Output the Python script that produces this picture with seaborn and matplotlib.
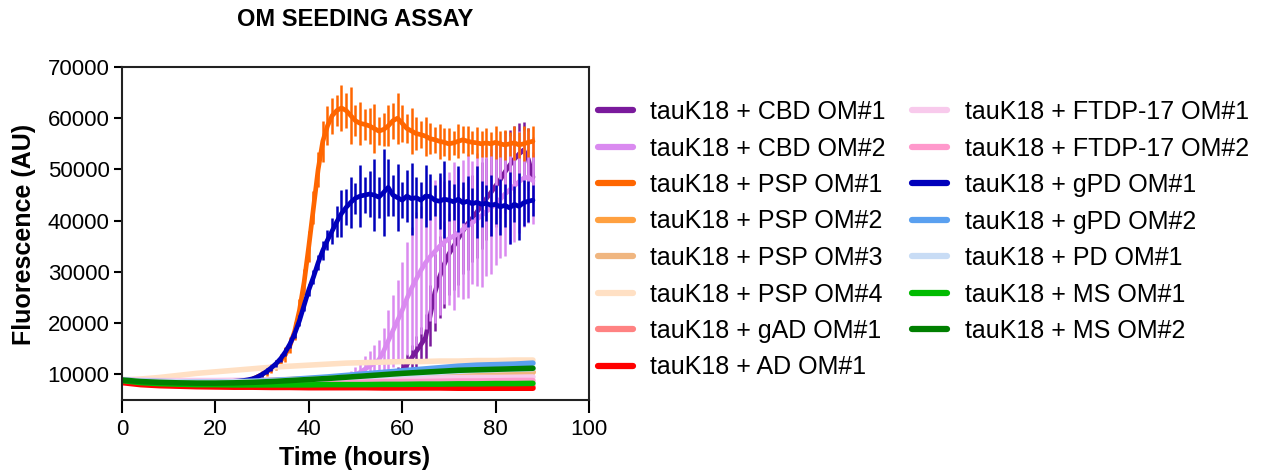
import numpy as np
import pandas as pd
import matplotlib
matplotlib.use("Agg")
import matplotlib.pyplot as plt
import seaborn as sns
from matplotlib.lines import Line2D

# ---------------- data ----------------
# dense time grid (hours) for the seeded (aggregating) samples
time_main = [0, 1, 2, 3, 4, 5, 6, 7, 8, 9, 10, 11, 12, 13, 14, 15, 16, 17, 18, 19,
             20, 21, 22, 23, 24, 25, 26, 27, 28, 29, 30, 31, 32, 33, 34, 35, 36, 37, 38, 39,
             40, 41, 42, 43, 44, 45, 46, 47, 48, 49, 50, 51, 52, 53, 54, 55, 56, 57, 58, 59,
             60, 61, 62, 63, 64, 65, 66, 67, 68, 69, 70, 71, 72, 73, 74, 75, 76, 77, 78, 79,
             80, 81, 82, 83, 84, 85, 86, 87, 88]

cbd1 = [8600, 8500, 8400, 8400, 8350, 8350, 8300, 8300, 8300, 8250,
        8250, 8250, 8200, 8200, 8200, 8200, 8200, 8200, 8200, 8200,
        8200, 8200, 8200, 8200, 8200, 8200, 8200, 8200, 8200, 8200,
        8200, 8200, 8200, 8200, 8200, 8200, 8250, 8250, 8250, 8250,
        8300, 8300, 8300, 8350, 8350, 8400, 8400, 8450, 8500, 8550,
        8600, 8700, 8800, 8900, 9000, 9150, 9300, 9500, 9800, 10200,
        10800, 11900, 13200, 14500, 15800, 17200, 21500, 26000, 29000, 31500,
        33500, 35000, 36500, 38000, 39400, 40500, 41700, 43000, 44300, 45500,
        46800, 48000, 49500, 50800, 52000, 53000, 53800, 52000, 48500]
cbd1_err = [300, 300, 300, 300, 300, 300, 300, 300, 300, 300,
            300, 300, 300, 300, 300, 300, 300, 300, 300, 300,
            300, 300, 300, 300, 300, 300, 300, 300, 300, 300,
            300, 300, 300, 300, 300, 300, 300, 300, 300, 300,
            300, 300, 300, 300, 300, 300, 300, 300, 300, 300,
            300, 300, 300, 300, 300, 300, 300, 500, 800, 1200,
            1600, 2000, 2500, 3000, 3500, 4500, 6000, 7500, 8000, 8500,
            8000, 8500, 9000, 8500, 9000, 8500, 9000, 8500, 8000, 8500,
            8000, 7500, 8000, 7000, 6500, 6000, 5500, 6000, 5000]

cbd2 = [8800, 8700, 8650, 8600, 8600, 8550, 8550, 8500, 8500, 8500,
        8450, 8450, 8450, 8400, 8400, 8400, 8400, 8400, 8400, 8400,
        8400, 8400, 8400, 8400, 8400, 8400, 8400, 8400, 8400, 8400,
        8400, 8400, 8450, 8450, 8450, 8450, 8500, 8500, 8500, 8550,
        8550, 8600, 8650, 8700, 8750, 8800, 8900, 9000, 9200, 9500,
        9900, 10400, 11000, 11600, 12200, 12800, 14500, 16500, 18500, 20500,
        22500, 24800, 26800, 28600, 30300, 31800, 33000, 34000, 35000, 35800,
        36500, 37000, 37600, 38300, 39000, 39600, 40300, 41000, 41800, 42500,
        43300, 44200, 45200, 46000, 46800, 47600, 48300, 48500, 47800]
cbd2_err = [300, 300, 300, 300, 300, 300, 300, 300, 300, 300,
            300, 300, 300, 300, 300, 300, 300, 300, 300, 300,
            300, 300, 300, 300, 300, 300, 300, 300, 300, 300,
            300, 300, 300, 300, 300, 300, 300, 300, 300, 300,
            300, 300, 300, 300, 300, 300, 500, 700, 900, 1200,
            1500, 2000, 2500, 3000, 3500, 4000, 4500, 6000, 7000, 8000,
            9500, 11000, 12000, 13000, 12500, 13000, 12500, 14000, 13500, 12000,
            13000, 14500, 12500, 13500, 14000, 12000, 13000, 14000, 12500, 13000,
            12000, 11500, 12000, 10500, 11000, 10000, 9500, 9000, 8500]

psp1 = [9000, 8800, 8700, 8650, 8600, 8600, 8550, 8550, 8500, 8500,
        8500, 8500, 8450, 8450, 8450, 8450, 8400, 8400, 8400, 8400,
        8400, 8450, 8450, 8500, 8550, 8600, 8700, 8850, 9100, 9500,
        10000, 10500, 11100, 11800, 12700, 13900, 15700, 18500, 22500, 28000,
        35000, 42500, 50000, 55500, 58500, 60500, 61500, 62000, 61500, 60500,
        59500, 59000, 58800, 58500, 58000, 57500, 57800, 58500, 59500, 60000,
        59000, 58000, 57500, 57000, 56800, 56500, 56000, 55800, 55500, 55300,
        55000, 55200, 55500, 55800, 55500, 55300, 55200, 55000, 55200, 55000,
        55300, 55000, 54800, 55000, 55200, 54800, 55000, 55300, 55500]
psp1_err = [500, 400, 350, 300, 300, 300, 300, 300, 300, 300,
            300, 300, 300, 300, 300, 300, 300, 300, 300, 300,
            300, 300, 300, 300, 300, 350, 400, 450, 500, 600,
            700, 800, 900, 1000, 1200, 1400, 1600, 1800, 2200, 2600,
            3000, 3200, 3500, 4000, 3800, 3500, 3000, 4500, 3500, 5500,
            3000, 4200, 3000, 3500, 4800, 2800, 3200, 4000, 3500, 5000,
            3600, 2900, 4400, 3200, 2600, 3800, 3000, 2500, 3400, 2700,
            3100, 2400, 3300, 2600, 2900, 2300, 3000, 2500, 2800, 2400,
            3200, 2600, 2900, 2300, 3300, 2500, 3400, 2800, 3000]

gpd1 = [8900, 8800, 8700, 8650, 8600, 8600, 8550, 8550, 8500, 8500,
        8500, 8500, 8450, 8450, 8450, 8450, 8450, 8450, 8450, 8450,
        8500, 8500, 8550, 8600, 8650, 8700, 8800, 8950, 9150, 9500,
        10000, 10600, 11300, 12100, 13100, 14400, 16000, 18000, 20500, 23500,
        26500, 29000, 31800, 34200, 36200, 38000, 39800, 41400, 42600, 43600,
        44400, 44800, 45000, 45200, 45000, 44600, 45500, 46500, 45000, 44500,
        44000, 44800, 44300, 44500, 44000, 44800, 44700, 44000, 43800, 44200,
        44000, 43700, 44200, 43500, 43800, 43300, 43600, 43200, 43400, 43000,
        43200, 42700, 43000, 42500, 43200, 42800, 43500, 43800, 44000]
gpd1_err = [400, 350, 300, 300, 300, 300, 300, 300, 300, 300,
            300, 300, 300, 300, 300, 300, 300, 300, 300, 300,
            300, 300, 300, 300, 300, 300, 300, 350, 400, 450,
            500, 550, 600, 650, 700, 750, 800, 900, 1000, 1100,
            1200, 1300, 1500, 1800, 2000, 2500, 3000, 4500, 3500, 5000,
            3000, 6000, 3500, 4500, 7000, 4000, 8500, 5500, 4000, 6500,
            3500, 5000, 7000, 4000, 3500, 6000, 4500, 3000, 5500, 7500,
            4000, 3500, 6500, 4000, 5000, 3000, 7000, 4500, 3500, 6000,
            3800, 5500, 4200, 7000, 3500, 6500, 4500, 4000, 3000]

# coarse time grid (hours) for the non-aggregating samples
time_flat = [0, 4, 8, 12, 16, 20, 24, 28, 32, 36, 40, 44, 48, 52, 56, 60, 64, 68, 72, 76, 80, 84, 88]
psp2 = [8800, 8600, 8500, 8450, 8400, 8400, 8450, 8500, 8600, 8700, 8850, 9000, 9150, 9300, 9450, 9600, 9750, 9900, 10000, 10100, 10200, 10300, 10400]
psp3 = [8800, 8700, 8650, 8600, 8600, 8650, 8700, 8800, 8900, 9000, 9150, 9300, 9450, 9600, 9750, 9900, 10000, 10100, 10200, 10300, 10400, 10450, 10500]
psp4 = [8900, 9100, 9400, 9800, 10200, 10500, 10800, 11100, 11400, 11600, 11800, 12000, 12200, 12300, 12400, 12500, 12500, 12600, 12600, 12700, 12700, 12800, 12800]
gad1 = [8600, 8300, 8100, 8000, 7900, 7850, 7800, 7800, 7800, 7750, 7750, 7750, 7700, 7700, 7700, 7700, 7700, 7700, 7700, 7650, 7650, 7650, 7650]
ad1 = [8400, 8000, 7800, 7700, 7600, 7550, 7500, 7500, 7450, 7450, 7400, 7400, 7400, 7400, 7350, 7350, 7350, 7350, 7300, 7300, 7300, 7300, 7300]
ftdp1 = [9000, 8900, 8800, 8800, 8800, 8800, 8850, 8850, 8900, 8900, 8950, 9000, 9050, 9100, 9150, 9200, 9250, 9300, 9350, 9400, 9400, 9450, 9500]
ftdp2 = [8900, 8700, 8600, 8500, 8450, 8400, 8400, 8400, 8400, 8400, 8450, 8450, 8500, 8500, 8550, 8600, 8600, 8650, 8700, 8700, 8750, 8800, 8800]
gpd2 = [8900, 8700, 8600, 8550, 8500, 8500, 8550, 8650, 8800, 9000, 9250, 9500, 9800, 10100, 10400, 10700, 11000, 11300, 11600, 11800, 11900, 12000, 12200]
pd1 = [8900, 8700, 8600, 8550, 8500, 8500, 8550, 8600, 8700, 8850, 9000, 9200, 9400, 9600, 9800, 10000, 10200, 10400, 10600, 10800, 10900, 11000, 11100]
ms1 = [8800, 8400, 8200, 8100, 8000, 8000, 7950, 7950, 7950, 7950, 7950, 8000, 8000, 8000, 8050, 8050, 8100, 8100, 8150, 8150, 8200, 8200, 8250]
ms2 = [8900, 8600, 8450, 8350, 8300, 8300, 8350, 8450, 8600, 8800, 9000, 9200, 9450, 9700, 9950, 10200, 10400, 10600, 10800, 10900, 11000, 11100, 11200]

labels = ["tauK18 + CBD OM#1", "tauK18 + CBD OM#2", "tauK18 + PSP OM#1", "tauK18 + PSP OM#2",
          "tauK18 + PSP OM#3", "tauK18 + PSP OM#4", "tauK18 + gAD OM#1", "tauK18 + AD OM#1",
          "tauK18 + FTDP-17 OM#1", "tauK18 + FTDP-17 OM#2", "tauK18 + gPD OM#1", "tauK18 + gPD OM#2",
          "tauK18 + PD OM#1", "tauK18 + MS OM#1", "tauK18 + MS OM#2"]
colors = ["#7A1A9C", "#DA8AF0", "#FF6600", "#FFA040", "#F0B680", "#FFE0C4", "#FF8282", "#FF0000",
          "#F8CAEC", "#FF99CC", "#0000BB", "#5AA0F0", "#C8DCF5", "#00BB00", "#007F00"]

series = [(time_main, cbd1, cbd1_err), (time_main, cbd2, cbd2_err), (time_main, psp1, psp1_err),
          (time_flat, psp2, None), (time_flat, psp3, None), (time_flat, psp4, None),
          (time_flat, gad1, None), (time_flat, ad1, None), (time_flat, ftdp1, None),
          (time_flat, ftdp2, None), (time_main, gpd1, gpd1_err), (time_flat, gpd2, None),
          (time_flat, pd1, None), (time_flat, ms1, None), (time_flat, ms2, None)]

# ---------------- plot ----------------
sns.set_style("ticks")
plt.rcParams["font.family"] = ["Liberation Sans", "DejaVu Sans"]
plt.rcParams["text.color"] = "black"
plt.rcParams["axes.labelcolor"] = "black"
plt.rcParams["xtick.color"] = "black"
plt.rcParams["ytick.color"] = "black"
plt.rcParams["axes.edgecolor"] = "black"

fig = plt.figure(figsize=(12.62, 4.72), dpi=100)
ax = fig.add_axes([122 / 1262, 1 - 400 / 472, (589 - 122) / 1262, (400 - 67) / 472])

for (t, v, e), lab, col in zip(series, labels, colors):
    df = pd.DataFrame({"time": t, "value": v})
    sns.lineplot(data=df, x="time", y="value", ax=ax, color=col,
                 lw=3.4 if e is not None else 4.0,
                 errorbar=None, label=lab, legend=False)
    if e is not None:
        ax.errorbar(t, v, yerr=e, fmt="none", ecolor=col, elinewidth=1.8, capsize=0)

leg = ax.get_legend()
if leg is not None:
    leg.remove()

ax.set_xlim(0, 100)
ax.set_ylim(5000, 70000)
ax.set_xticks([0, 20, 40, 60, 80, 100])
ax.set_yticks([10000, 20000, 30000, 40000, 50000, 60000, 70000])
ax.set_xlabel("")
ax.set_ylabel("")
ax.tick_params(axis="both", labelsize=16, width=1.5, color="black", labelcolor="black")
ax.tick_params(axis="x", length=9, pad=5)
ax.tick_params(axis="y", length=6, pad=3)
for s in ax.spines.values():
    s.set_linewidth(1.5)
    s.set_color("#222222")

fig.text(355 / 1262, 1 - 20 / 472, "OM SEEDING ASSAY", ha="center", va="center",
         fontsize=17, fontweight="bold", color="black")
fig.text(355 / 1262, 1 - 458 / 472, "Time (hours)", ha="center", va="center",
         fontsize=18, fontweight="bold", color="black")
fig.text(24 / 1262, 1 - 234 / 472, "Fluorescence (AU)", ha="center", va="center",
         rotation=90, fontsize=18, fontweight="bold", color="black")

handles = [Line2D([0], [0], color=c, lw=4.5) for c in colors]
leg = fig.legend(handles, labels, loc="upper left", bbox_to_anchor=(598 / 1262, 1 - 100 / 472),
                 ncol=2, frameon=False, fontsize=18, handlelength=1.4, handletextpad=0.7,
                 columnspacing=1.05, labelspacing=0.5, borderpad=0, borderaxespad=0)
for txt in leg.get_texts():
    txt.set_color("black")

fig.savefig("out.png", dpi=100)
